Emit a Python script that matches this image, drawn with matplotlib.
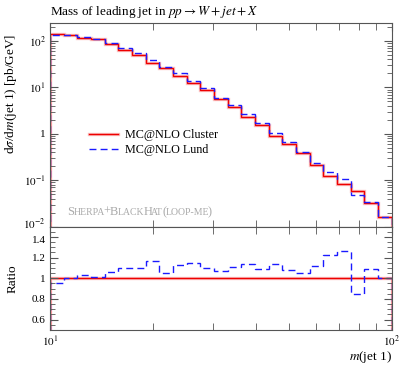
import matplotlib
matplotlib.use("Agg")
import matplotlib.pyplot as plt
import matplotlib.transforms as mtransforms
import numpy as np
from matplotlib.ticker import LogLocator, FixedLocator, NullFormatter, FuncFormatter

plt.rcParams['font.family'] = ['Liberation Serif', 'DejaVu Serif']
plt.rcParams['mathtext.fontset'] = 'stix'

# 25 log bins between 10 and 100 GeV
edges = np.logspace(1, 2, 26)

# MC@NLO Cluster and MC@NLO Lund, dsigma/dm [pb/GeV]
cluster = [140, 135, 118, 109, 85, 63, 49, 34, 25.7, 17.9, 12.2, 8.7, 5.6,
           3.7, 2.3, 1.56, 0.92, 0.61, 0.385, 0.21, 0.122, 0.082, 0.058,
           0.0316, 0.0158]
lund = [133, 135, 121.5, 110, 90.5, 69.3, 54.1, 39.6, 26.9, 20.2, 14.0, 9.57,
        6.0, 4.1, 2.62, 1.70, 1.05, 0.662, 0.404, 0.236, 0.149, 0.104, 0.0493,
        0.0343, 0.0158]

red = '#ee0000'
blue = '#1a1aff'
frame = '#555555'
dash = (0, (5, 3))

fig = plt.figure(figsize=(4.05, 3.65), dpi=100)
ax = fig.add_axes([0.1235, 0.379, 0.8435, 0.557])
axr = fig.add_axes([0.1235, 0.096, 0.8435, 0.283], sharex=ax)

cl = np.array(cluster)
ld = np.array(lund)

# main panel
ax.stairs(cl, edges, color=red, lw=2.4, alpha=0.25)
ax.stairs(cl, edges, color=red, lw=1.0)
ax.stairs(ld, edges, color=blue, lw=1.0, ls=dash)

ax.set_xscale('log')
ax.set_yscale('log')
ax.set_xlim(10, 100)
ax.set_ylim(0.01, 240)

def ylab(v, pos):
    e = int(round(np.log10(v)))
    if e == 0:
        return '1'
    return r'$10^{%d}$' % e

ax.yaxis.set_major_locator(LogLocator(base=10, numticks=10))
ax.yaxis.set_minor_locator(LogLocator(base=10, subs=np.arange(2, 10), numticks=20))
ax.yaxis.set_major_formatter(FuncFormatter(ylab))
ax.yaxis.set_minor_formatter(NullFormatter())
ax.tick_params(axis='x', labelbottom=False)

ax.set_title(r'Mass of leading jet in $pp \rightarrow W + jet + X$', loc='left',
             fontsize=9.5, pad=6)
ax.set_ylabel(r'd$\sigma$/d$m$(jet 1) [pb/GeV]', fontsize=9.5, loc='top')
ax.yaxis.set_label_coords(-0.092, 0.95)

h1 = (plt.Line2D([], [], color=red, lw=2.4, alpha=0.25), plt.Line2D([], [], color=red, lw=1.0))
h2 = plt.Line2D([], [], color=blue, lw=1.0, ls=dash)
ax.legend([h1, h2], ['MC@NLO Cluster', 'MC@NLO Lund'], loc='upper left',
          bbox_to_anchor=(0.1, 0.505), frameon=False, fontsize=8.7,
          handlelength=2.4, handletextpad=0.6, labelspacing=0.25, borderaxespad=0)

# watermark in small caps, pieces placed one after another on a common baseline
pieces = [('S', 9), ('HERPA', 7), ('+', 9), ('B', 9), ('LACK', 7), ('H', 9), ('AT', 7),
          ('(', 9), ('LOOP-ME', 7), (')', 9)]
renderer = fig.canvas.get_renderer()
x0, y0 = ax.transAxes.transform((0.05, 0.058))
for s, fs in pieces:
    t = fig.text(x0, y0, s, transform=None, fontsize=fs, color='#aaaaaa',
                 va='baseline', ha='left')
    x0 = t.get_window_extent(renderer).x1 - 0.8

# ratio panel
ratio = ld / cl
axr.stairs(np.ones_like(cl), edges, color=red, lw=2.4, alpha=0.25)
axr.stairs(np.ones_like(cl), edges, color=red, lw=1.0)
axr.stairs(ratio, edges, color=blue, lw=1.0, ls=dash)
axr.set_ylim(0.5, 1.5)
axr.yaxis.set_major_locator(FixedLocator([0.6, 0.8, 1.0, 1.2, 1.4]))
axr.yaxis.set_minor_locator(FixedLocator(np.arange(0.5, 1.51, 0.05)))
axr.yaxis.set_major_formatter(FuncFormatter(lambda v, p: '%g' % v))
axr.set_ylabel('Ratio', fontsize=9.5)
axr.yaxis.set_label_coords(-0.092, 0.5)

axr.xaxis.set_major_locator(LogLocator(base=10, numticks=5))
axr.xaxis.set_minor_locator(LogLocator(base=10, subs=np.arange(2, 10), numticks=10))
axr.xaxis.set_major_formatter(FuncFormatter(lambda v, p: r'$10^{%d}$' % int(round(np.log10(v)))))
axr.xaxis.set_minor_formatter(NullFormatter())
axr.set_xlabel(r'$m$(jet 1)', fontsize=9.5, loc='right', labelpad=0)

for a in (ax, axr):
    a.tick_params(which='both', direction='in', top=True, right=True,
                  labelsize=8, color=frame, pad=3)
    a.tick_params(which='major', length=6, width=0.8)
    a.tick_params(which='minor', length=3.5, width=0.6)
    for sp in a.spines.values():
        sp.set_color(frame)
        sp.set_linewidth(0.8)
ax.tick_params(axis='x', which='minor', length=5)
axr.tick_params(axis='x', which='minor', length=5)
ax.spines['bottom'].set_color('#222222')

# nudge the two labels that meet at the panel boundary apart
fig.canvas.draw()
up = mtransforms.ScaledTranslation(0, 3 / 72, fig.dpi_scale_trans)
down = mtransforms.ScaledTranslation(0, -2 / 72, fig.dpi_scale_trans)
for lab in ax.get_yticklabels():
    if lab.get_text() == r'$10^{-2}$':
        lab.set_transform(lab.get_transform() + up)
for lab in axr.get_yticklabels():
    if lab.get_text() == '1.4':
        lab.set_transform(lab.get_transform() + down)

fig.savefig('out.png', dpi=100)
